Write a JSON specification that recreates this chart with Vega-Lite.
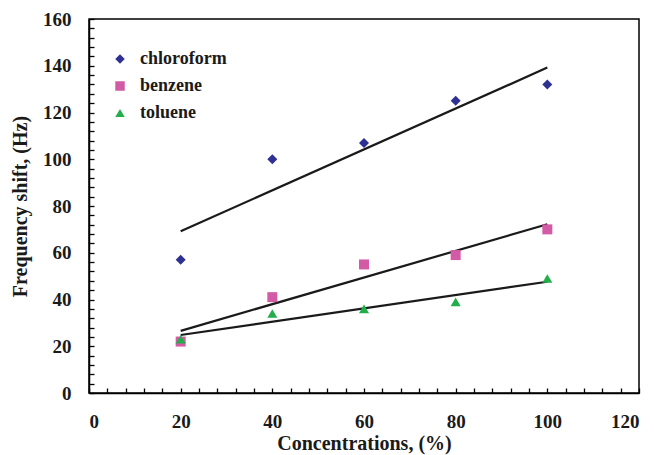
{
  "$schema": "https://vega.github.io/schema/vega-lite/v6.json",
  "width": 550,
  "height": 374,
  "autosize": "none",
  "padding": {"left": 89, "top": 19, "right": 15, "bottom": 62},
  "config": {
    "view": {"stroke": "#000", "strokeWidth": 1.5},
    "font": "Liberation Serif",
    "axis": {"grid": false, "domain": true, "domainColor": "#000000", "domainWidth": 1.5, "labelFont": "Liberation Serif", "labelFontWeight": "bold", "labelFontSize": 19, "labelColor": "#1a1a1a", "titleFont": "Liberation Serif", "titleFontWeight": "bold", "titleFontSize": 20, "titleColor": "#1a1a1a", "labelOverlap": false}
  },
  "data": {"values": [
    {"c": 20, "f": 57, "s": "chloroform"},
    {"c": 40, "f": 100, "s": "chloroform"},
    {"c": 60, "f": 107, "s": "chloroform"},
    {"c": 80, "f": 125, "s": "chloroform"},
    {"c": 100, "f": 132, "s": "chloroform"},
    {"c": 20, "f": 22, "s": "benzene"},
    {"c": 40, "f": 41, "s": "benzene"},
    {"c": 60, "f": 55, "s": "benzene"},
    {"c": 80, "f": 59, "s": "benzene"},
    {"c": 100, "f": 70, "s": "benzene"},
    {"c": 20, "f": 23, "s": "toluene"},
    {"c": 40, "f": 34, "s": "toluene"},
    {"c": 60, "f": 36, "s": "toluene"},
    {"c": 80, "f": 39, "s": "toluene"},
    {"c": 100, "f": 49, "s": "toluene"}
  ]},
  "encoding": {
    "x": {"field": "c", "type": "quantitative", "scale": {"domain": [0, 120], "nice": false},
      "axis": {"orient": "bottom", "values": [0,4,8,12,16,20,24,28,32,36,40,44,48,52,56,60,64,68,72,76,80,84,88,92,96,100,104,108,112,116,120],
        "labelExpr": "datum.value % 20 === 0 ? datum.label : ''",
        "ticks": true, "tickSize": -5, "tickColor": "#000000", "tickWidth": 1.3,
        "labelPadding": 24, "title": "Concentrations, (%)", "titlePadding": 2}},
    "y": {"field": "f", "type": "quantitative", "scale": {"domain": [0, 160], "nice": false},
      "axis": {"orient": "left", "values": [0,4,8,12,16,20,24,28,32,36,40,44,48,52,56,60,64,68,72,76,80,84,88,92,96,100,104,108,112,116,120,124,128,132,136,140,144,148,152,156,160],
        "labelExpr": "datum.value % 20 === 0 ? datum.label : ''",
        "ticks": true, "tickSize": -5, "tickColor": "#000000", "tickWidth": 1.3,
        "labelPadding": 23, "title": "Frequency shift, (Hz)", "titlePadding": 12}}
  },
  "layer": [
    {
      "transform": [{"regression": "f", "on": "c", "groupby": ["s"], "method": "linear", "extent": [20, 100]}],
      "mark": {"type": "line", "color": "#1a1a1a", "strokeWidth": 2.2},
      "encoding": {"detail": {"field": "s"}}
    },
    {
      "mark": {"type": "point", "filled": true, "opacity": 1, "size": 100},
      "encoding": {
        "shape": {"field": "s", "type": "nominal", "scale": {"domain": ["chloroform", "benzene", "toluene"], "range": ["diamond", "square", "triangle-up"]}, "legend": null},
        "color": {"field": "s", "type": "nominal", "scale": {"domain": ["chloroform", "benzene", "toluene"], "range": ["#2E3192", "#D35BA6", "#22AE4B"]},
          "legend": {"orient": "none", "legendX": 22, "legendY": 31, "title": null, "labelFont": "Liberation Serif", "labelFontWeight": "bold", "labelFontSize": 18, "labelColor": "#1a1a1a", "symbolSize": 90, "rowPadding": 9, "labelOffset": 11, "symbolStrokeWidth": 0}}
      }
    }
  ]
}
